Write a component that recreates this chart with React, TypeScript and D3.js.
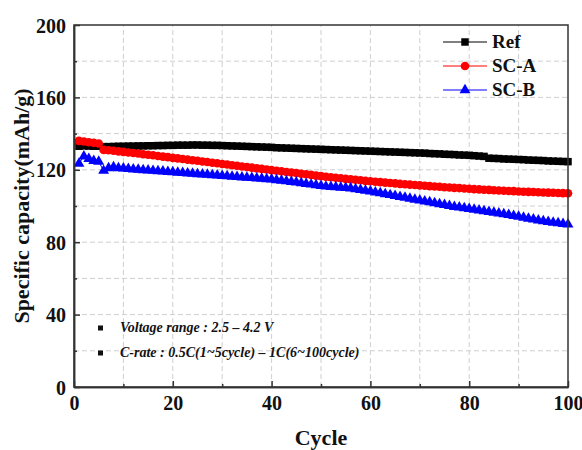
import React, { useEffect, useRef } from 'react'
import {
  select,
  scaleLinear,
  axisBottom,
  axisLeft,
  line,
  symbol,
  symbolSquare,
  symbolCircle,
  symbolTriangle
} from 'd3'

const W = 582
const H = 450
const margin = { top: 25, right: 14, bottom: 63, left: 74 }

// specific capacity (mAh/g) per cycle, cycles 1..100
const refCap = [
  133.0, 133.2, 133.1, 133.0, 133.0, 132.8, 132.8, 132.9, 133.0, 133.0,
  133.1, 133.1, 133.2, 133.2, 133.3, 133.3, 133.4, 133.4, 133.5, 133.5,
  133.6, 133.6, 133.6, 133.7, 133.7, 133.6, 133.6, 133.5, 133.5, 133.4,
  133.3, 133.2, 133.1, 133.0, 132.9, 132.8, 132.7, 132.6, 132.5, 132.4,
  132.2, 132.1, 132.0, 131.9, 131.8, 131.7, 131.6, 131.5, 131.4, 131.3,
  131.2, 131.1, 131.0, 130.9, 130.8, 130.7, 130.6, 130.5, 130.4, 130.3,
  130.2, 130.1, 130.0, 129.9, 129.8, 129.7, 129.6, 129.5, 129.4, 129.3,
  129.2, 129.0, 128.9, 128.8, 128.6, 128.5, 128.4, 128.2, 128.1, 128.0,
  127.8, 127.6, 127.4, 126.4, 126.3, 126.2, 126.0, 125.9, 125.8, 125.7,
  125.6, 125.4, 125.3, 125.2, 125.1, 124.9, 124.8, 124.7, 124.6, 124.5
]

const scaCap = [
  136.0, 135.6, 135.2, 134.9, 134.5, 131.0, 130.8, 130.5, 130.2, 129.9,
  129.6, 129.3, 129.0, 128.6, 128.3, 128.0, 127.6, 127.3, 127.0, 126.6,
  126.3, 126.0, 125.6, 125.3, 125.0, 124.6, 124.3, 123.9, 123.6, 123.2,
  122.9, 122.5, 122.2, 121.8, 121.5, 121.2, 120.8, 120.5, 120.2, 119.8,
  119.5, 119.2, 118.8, 118.5, 118.2, 117.8, 117.5, 117.2, 116.8, 116.5,
  116.2, 115.9, 115.6, 115.3, 115.0, 114.7, 114.5, 114.2, 113.9, 113.7,
  113.4, 113.2, 112.9, 112.7, 112.5, 112.2, 112.0, 111.8, 111.6, 111.4,
  111.2, 111.0, 110.8, 110.6, 110.4, 110.2, 110.0, 109.9, 109.7, 109.5,
  109.3, 109.2, 109.0, 108.9, 108.7, 108.6, 108.4, 108.3, 108.2, 108.0,
  107.9, 107.8, 107.7, 107.6, 107.5, 107.4, 107.3, 107.2, 107.1, 107.0
]

const scbCap = [
  123.5, 127.5, 126.0, 125.0, 124.5, 119.5, 121.0, 121.5, 121.0, 120.8,
  120.5, 120.3, 120.1, 119.9, 119.7, 119.5, 119.3, 119.1, 118.9, 118.7,
  118.5, 118.3, 118.1, 117.9, 117.7, 117.5, 117.3, 117.1, 116.9, 116.7,
  116.5, 116.3, 116.1, 115.9, 115.7, 115.5, 115.3, 115.1, 114.9, 114.7,
  114.3, 114.0, 113.7, 113.4, 113.1, 112.7, 112.3, 111.9, 111.5, 111.1,
  110.8, 110.6, 110.4, 110.2, 110.0, 109.7, 109.3, 108.9, 108.5, 108.1,
  107.6, 107.1, 106.6, 106.1, 105.6, 105.1, 104.6, 104.1, 103.6, 103.1,
  102.6, 102.1, 101.6, 101.1, 100.6, 100.1, 99.6, 99.2, 98.8, 98.4,
  98.0, 97.6, 97.2, 96.8, 96.4, 96.0, 95.6, 95.1, 94.6, 94.1,
  93.6, 93.1, 92.6, 92.1, 91.7, 91.3, 90.9, 90.5, 90.2, 89.9
]

const xTicks = [0, 20, 40, 60, 80, 100]
const xMinor = [10, 30, 50, 70, 90]
const yTicks = [0, 40, 80, 120, 160, 200]
const yMinor = [20, 60, 100, 140, 180]
const notes = ['Voltage range : 2.5 – 4.2 V', 'C-rate : 0.5C(1~5cycle) – 1C(6~100cycle)']

const series = [
  { name: 'Ref', values: refCap, color: '#000000', shape: symbolSquare, size: 56 },
  { name: 'SC-A', values: scaCap, color: '#ff0000', shape: symbolCircle, size: 58 },
  { name: 'SC-B', values: scbCap, color: '#0000ff', shape: symbolTriangle, size: 52 }
]

const FONT = '"Liberation Serif", "Times New Roman", serif'

const App = () => {
  const svgRef = useRef<SVGSVGElement>(null)

  useEffect(() => {
    const svg = select(svgRef.current)
    svg.selectAll('*').remove()

    const innerW = W - margin.left - margin.right
    const innerH = H - margin.top - margin.bottom

    const x = scaleLinear().domain([0, 100]).range([margin.left, margin.left + innerW])
    const y = scaleLinear().domain([0, 200]).range([margin.top + innerH, margin.top])

    svg.append('rect').attr('width', W).attr('height', H).attr('fill', '#fff')

    // dashed grid
    const grid = svg.append('g').attr('stroke', '#cfcfcf').attr('stroke-dasharray', '5,3').attr('stroke-width', 1)
    grid.selectAll('.gx')
      .data([...xMinor, ...xTicks.slice(1, -1)])
      .join('line')
      .attr('x1', d => x(d)).attr('x2', d => x(d))
      .attr('y1', y(0)).attr('y2', y(200))
    grid.selectAll('.gy')
      .data([...yMinor, ...yTicks.slice(1, -1)])
      .join('line')
      .attr('class', 'gy')
      .attr('x1', x(0)).attr('x2', x(100))
      .attr('y1', d => y(d)).attr('y2', d => y(d))

    // series
    const cycle = (_: number, i: number) => i + 1
    series.forEach(s => {
      const g = svg.append('g')
      const path = line<number>().x((v, i) => x(cycle(v, i))).y(v => y(v))
      g.append('path')
        .attr('d', path(s.values))
        .attr('fill', 'none')
        .attr('stroke', s.color)
        .attr('stroke-width', 1)
      g.selectAll('path.m')
        .data(s.values)
        .join('path')
        .attr('class', 'm')
        .attr('d', symbol().type(s.shape).size(s.size))
        .attr('transform', (v, i) => `translate(${x(cycle(v, i))},${y(v)})`)
        .attr('fill', s.color)
    })

    // frame
    svg.append('rect')
      .attr('x', x(0)).attr('y', y(200))
      .attr('width', innerW).attr('height', innerH)
      .attr('fill', 'none').attr('stroke', '#333').attr('stroke-width', 1.5)

    // axes (ticks pointing inward)
    const xAxis = svg.append('g').attr('transform', `translate(0,${y(0)})`)
      .call(axisBottom(x).tickValues(xTicks).tickSizeInner(-6).tickSizeOuter(0).tickPadding(9))
    const xMin = svg.append('g').attr('transform', `translate(0,${y(0)})`)
      .call(axisBottom(x).tickValues(xMinor).tickSizeInner(-3).tickSizeOuter(0).tickFormat(() => ''))
    const yAxis = svg.append('g').attr('transform', `translate(${x(0)},0)`)
      .call(axisLeft(y).tickValues(yTicks).tickSizeInner(-6).tickSizeOuter(0).tickPadding(8))
    const yMin = svg.append('g').attr('transform', `translate(${x(0)},0)`)
      .call(axisLeft(y).tickValues(yMinor).tickSizeInner(-3).tickSizeOuter(0).tickFormat(() => ''))

    ;[xAxis, xMin, yAxis, yMin].forEach(a => {
      a.select('.domain').attr('stroke', '#333').attr('stroke-width', 1.5)
      a.selectAll('line').attr('stroke', '#333').attr('stroke-width', 1.5)
      a.selectAll('text')
        .attr('fill', '#111')
        .style('font-family', FONT)
        .style('font-weight', 'bold')
        .style('font-size', '20px')
    })
    yAxis.selectAll('text').attr('dy', '0.35em')

    // axis titles
    svg.append('text')
      .attr('x', (x(0) + x(100)) / 2).attr('y', 445)
      .attr('text-anchor', 'middle')
      .style('font-family', FONT).style('font-weight', 'bold').style('font-size', '22px')
      .attr('fill', '#111')
      .text('Cycle')
    svg.append('text')
      .attr('transform', `translate(29,${(y(0) + y(200)) / 2}) rotate(-90)`)
      .attr('text-anchor', 'middle')
      .style('font-family', FONT).style('font-weight', 'bold').style('font-size', '22px')
      .attr('fill', '#111')
      .text('Specific capacity(mAh/g)')

    // legend
    const legend = svg.append('g')
    series.forEach((s, i) => {
      const ly = 42 + i * 24
      legend.append('line')
        .attr('x1', 443).attr('x2', 487).attr('y1', ly).attr('y2', ly)
        .attr('stroke', s.color).attr('stroke-width', 1)
      legend.append('path')
        .attr('d', symbol().type(s.shape).size(s.size)())
        .attr('transform', `translate(465,${ly})`)
        .attr('fill', s.color)
      legend.append('text')
        .attr('x', 492).attr('y', ly + 6)
        .style('font-family', FONT).style('font-weight', 'bold').style('font-size', '19px')
        .attr('fill', '#111')
        .text(s.name)
    })

    // test condition notes
    notes.forEach((t, i) => {
      const ny = 328 + i * 25
      svg.append('rect')
        .attr('x', 98).attr('y', ny - 2.5).attr('width', 5).attr('height', 5)
        .attr('fill', '#111')
      svg.append('text')
        .attr('x', 120).attr('y', ny + 4)
        .style('font-family', FONT).style('font-weight', 'bold').style('font-style', 'italic')
        .style('font-size', '14px')
        .attr('fill', '#111')
        .text(t)
    })
  }, [])

  return (
    <svg
      ref={svgRef}
      width={W}
      height={H}
      style={{ position: 'absolute', left: 0, top: 0 }}
    />
  )
}

export default App
